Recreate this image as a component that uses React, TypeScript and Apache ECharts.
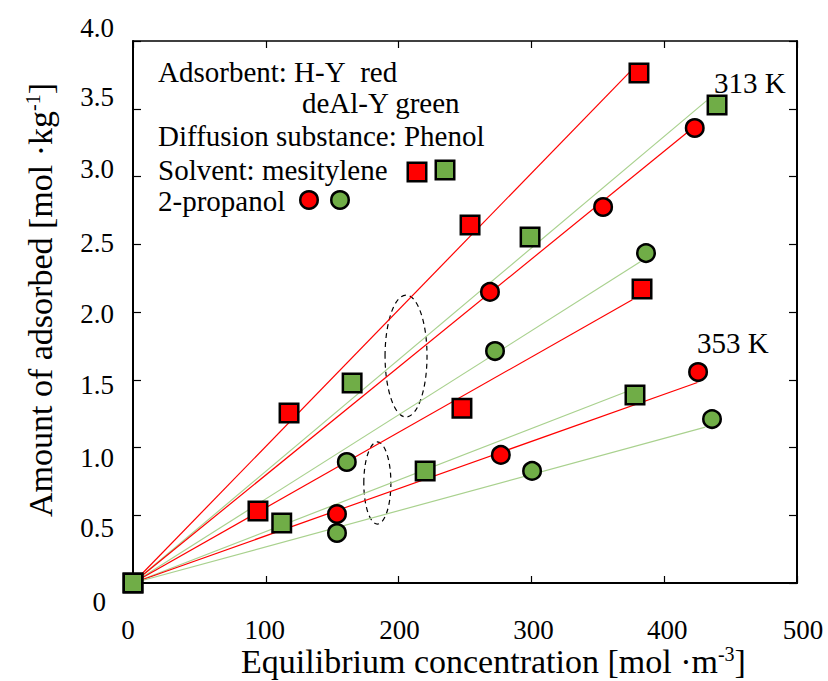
import React, { useEffect, useRef } from 'react';
import * as echarts from 'echarts';

// ---------- data ----------
const xTickValues = [0, 100, 200, 300, 400, 500];
const xTickLabels = ['0', '100', '200', '300', '400', '500'];
const yTickValues = [0, 0.5, 1.0, 1.5, 2.0, 2.5, 3.0, 3.5, 4.0];
const yTickLabels = ['0', '0.5', '1.0', '1.5', '2.0', '2.5', '3.0', '3.5', '4.0'];

// H-Y (red) in mesitylene (squares)
const hyMesitylene313 = [[0, 0], [117.5, 1.255], [253.8, 2.642], [381, 3.764]];
const hyMesitylene353 = [[94.1, 0.531], [247.7, 1.29], [383.3, 2.17]];
// deAl-Y (green) in mesitylene (squares)
const dealMesitylene313 = [[0, 0], [165, 1.476], [299, 2.553], [439.8, 3.528]];
const dealMesitylene353 = [[112, 0.443], [220, 0.827], [378, 1.387]];
// H-Y (red) in 2-propanol (circles)
const hyPropanol313 = [[268.8, 2.148], [354, 2.775], [423, 3.358]];
const hyPropanol353 = [[153.6, 0.509], [277, 0.945], [425.5, 1.557]];
// deAl-Y (green) in 2-propanol (circles)
const dealPropanol313 = [[161, 0.893], [272.6, 1.712], [386.3, 2.435]];
const dealPropanol353 = [[153.6, 0.369], [300.5, 0.827], [436, 1.21]];

// fitted lines through the origin: end points
const trendOrigin = [0, 0];
const trendHyMes313 = [374, 3.77];
const trendHyMes353 = [376, 2.09];
const trendDealMes313 = [432, 3.56];
const trendDealMes353 = [371, 1.41];
const trendHyPro313 = [418, 3.33];
const trendHyPro353 = [425, 1.48];
const trendDealPro313 = [382, 2.37];
const trendDealPro353 = [431, 1.15];

// dashed ellipses (centre x, centre y, radius x, radius y) in data units
const ellipses = [
  [205.6, 1.675, 15.8, 0.45],
  [184, 0.738, 10.2, 0.303],
];

// ---------- styles ----------
const FONT = '"Liberation Serif", "Times New Roman", Times, serif';
const RED = '#FF0000';
const GREEN = '#70AD47';
const GREEN_LINE = '#A9D18E';
const TICK_FS = 27;
const NOTE_FONT = `29px ${FONT}`;

// small per-label nudges (px) to mimic the original label placement
const yLabelShift = [19, 13, 10, 5, 2, -1, -8, -12, -13];
const xLabelShiftX = [-5, -1, 1, 2, 3, 6];

const yRich: Record<string, any> = {};
yTickLabels.forEach((_, i) => {
  const d = yLabelShift[i];
  yRich['y' + i] = {
    fontSize: TICK_FS, fontFamily: FONT, color: '#000',
    padding: [d > 0 ? 2 * d : 0, i === 0 ? 8 : 0, d < 0 ? -2 * d : 0, 0],
  };
});
const xRich: Record<string, any> = {};
xTickLabels.forEach((_, i) => {
  const dx = xLabelShiftX[i];
  xRich['x' + i] = {
    fontSize: TICK_FS, fontFamily: FONT, color: '#000',
    padding: [0, dx < 0 ? -2 * dx : 0, 0, dx > 0 ? 2 * dx : 0],
  };
});

function trend(end: number[], color: string) {
  return {
    type: 'line', data: [trendOrigin, end], symbol: 'none', silent: true, z: 2,
    lineStyle: { color, width: 1.2 },
  };
}
function points(data: number[][], color: string, shape: string, z: number) {
  return {
    type: 'scatter', data, symbol: shape, symbolSize: shape === 'rect' ? 18.5 : 17.5, z,
    itemStyle: { color, borderColor: '#000', borderWidth: 2.5, opacity: 1 },
    silent: true,
  };
}

const supStyle = { fontSize: 20, fontFamily: FONT, color: '#000', verticalAlign: 'top' };

const option: any = {
  animation: false,
  backgroundColor: '#fff',
  textStyle: { fontFamily: FONT, color: '#000' },
  grid: { left: 133, top: 41, right: 31, bottom: 98, containLabel: false, outerBoundsMode: 'none' },
  xAxis: [
    {
      type: 'value', min: 0, max: 500, interval: 100, position: 'bottom',
      axisLine: { show: true, onZero: false, lineStyle: { color: '#000', width: 2 } },
      axisTick: { show: true, inside: true, length: 7, lineStyle: { color: '#000', width: 1.2 } },
      splitLine: { show: false },
      axisLabel: {
        margin: 33, showMinLabel: true, showMaxLabel: true,
        fontSize: TICK_FS, fontFamily: FONT, color: '#000',
        formatter: (v: number) => {
          const i = xTickValues.indexOf(Math.round(v));
          return `{x${i}|${xTickLabels[i]}}`;
        },
        rich: xRich,
      },
      name: 'Equilibrium concentration [mol ·m{sup|-3}]',
      nameLocation: 'middle', nameGap: 61, nameMoveOverlap: false,
      nameTextStyle: {
        fontSize: 34, fontFamily: FONT, color: '#000', padding: [0, 0, 0, 57],
        rich: { sup: supStyle },
      },
    },
    {
      type: 'value', min: 0, max: 500, interval: 100, position: 'top',
      axisLine: { show: true, onZero: false, lineStyle: { color: '#000', width: 1.5 } },
      axisTick: { show: true, inside: true, length: 7, lineStyle: { color: '#000', width: 1.2 } },
      axisLabel: { show: false }, splitLine: { show: false },
    },
  ],
  yAxis: [
    {
      type: 'value', min: 0, max: 4, interval: 0.5, position: 'left',
      axisLine: { show: true, onZero: false, lineStyle: { color: '#000', width: 2 } },
      axisTick: { show: true, inside: true, length: 8, lineStyle: { color: '#000', width: 1.2 } },
      splitLine: { show: false },
      axisLabel: {
        margin: 19, showMinLabel: true, showMaxLabel: true,
        fontSize: TICK_FS, fontFamily: FONT, color: '#000',
        formatter: (v: number) => {
          const i = yTickValues.indexOf(Math.round(v * 2) / 2);
          return `{y${i}|${yTickLabels[i]}}`;
        },
        rich: yRich,
      },
      name: 'Amount of adsorbed [mol ·kg{sup|-1}]',
      nameLocation: 'middle', nameGap: 76, nameRotate: 90, nameMoveOverlap: false,
      nameTextStyle: {
        fontSize: 34, fontFamily: FONT, color: '#000', padding: [0, 0, 0, 24],
        rich: { sup: supStyle },
      },
    },
    {
      type: 'value', min: 0, max: 4, interval: 0.5, position: 'right',
      axisLine: { show: true, onZero: false, lineStyle: { color: '#000', width: 2 } },
      axisTick: { show: true, inside: true, length: 8, lineStyle: { color: '#000', width: 1.2 } },
      axisLabel: { show: false }, splitLine: { show: false },
    },
  ],
  series: [
    trend(trendHyMes313, RED),
    trend(trendDealMes313, GREEN_LINE),
    trend(trendHyPro313, RED),
    trend(trendDealPro313, GREEN_LINE),
    trend(trendHyMes353, RED),
    trend(trendDealMes353, GREEN_LINE),
    trend(trendHyPro353, RED),
    trend(trendDealPro353, GREEN_LINE),
    {
      type: 'custom', data: ellipses, z: 2, silent: true,
      renderItem: (params: any, api: any) => {
        const c = api.coord([api.value(0), api.value(1)]);
        const s = api.size([api.value(2), api.value(3)]);
        return {
          type: 'ellipse',
          shape: { cx: c[0], cy: c[1], rx: s[0], ry: s[1] },
          style: { fill: 'none', stroke: '#000', lineWidth: 1.2, lineDash: [5, 4] },
        };
      },
    },
    points(dealPropanol313, GREEN, 'circle', 4),
    points(dealPropanol353, GREEN, 'circle', 4),
    points(hyPropanol313, RED, 'circle', 5),
    points(hyPropanol353, RED, 'circle', 5),
    points(hyMesitylene313, RED, 'rect', 6),
    points(hyMesitylene353, RED, 'rect', 6),
    points(dealMesitylene313, GREEN, 'rect', 7),
    points(dealMesitylene353, GREEN, 'rect', 7),
  ],
  graphic: [
    { type: 'text', x: 158, y: 72, z: 10, style: { text: 'Adsorbent: H-Y\u00a0 red', font: NOTE_FONT, fill: '#000', verticalAlign: 'middle' } },
    { type: 'text', x: 302, y: 103, z: 10, style: { text: 'deAl-Y green', font: NOTE_FONT, fill: '#000', verticalAlign: 'middle' } },
    { type: 'text', x: 158, y: 136, z: 10, style: { text: 'Diffusion substance: Phenol', font: NOTE_FONT, fill: '#000', verticalAlign: 'middle' } },
    { type: 'text', x: 158, y: 170, z: 10, style: { text: 'Solvent: mesitylene', font: NOTE_FONT, fill: '#000', verticalAlign: 'middle' } },
    { type: 'text', x: 158, y: 201, z: 10, style: { text: '2-propanol', font: NOTE_FONT, fill: '#000', verticalAlign: 'middle' } },
    { type: 'rect', z: 10, shape: { x: 417 - 9.25, y: 172 - 9.25, width: 18.5, height: 18.5 }, style: { fill: RED, stroke: '#000', lineWidth: 2.5 } },
    { type: 'rect', z: 10, shape: { x: 445 - 9.25, y: 170 - 9.25, width: 18.5, height: 18.5 }, style: { fill: GREEN, stroke: '#000', lineWidth: 2.5 } },
    { type: 'circle', z: 10, shape: { cx: 309, cy: 200, r: 8.75 }, style: { fill: RED, stroke: '#000', lineWidth: 2.5 } },
    { type: 'circle', z: 10, shape: { cx: 340, cy: 200, r: 8.75 }, style: { fill: GREEN, stroke: '#000', lineWidth: 2.5 } },
    { type: 'text', x: 714, y: 83, z: 10, style: { text: '313 K', font: NOTE_FONT, fill: '#000', verticalAlign: 'middle' } },
    { type: 'text', x: 697, y: 343, z: 10, style: { text: '353 K', font: NOTE_FONT, fill: '#000', verticalAlign: 'middle' } },
  ],
};

export default function App() {
  const ref = useRef<HTMLDivElement>(null);
  useEffect(() => {
    const chart = echarts.init(ref.current as HTMLDivElement, null, { renderer: 'svg' });
    chart.setOption(option);
    return () => chart.dispose();
  }, []);
  return (
    <div
      ref={ref}
      style={{ position: 'absolute', left: 0, top: 0, width: 828, height: 681, background: '#fff' }}
    />
  );
}
